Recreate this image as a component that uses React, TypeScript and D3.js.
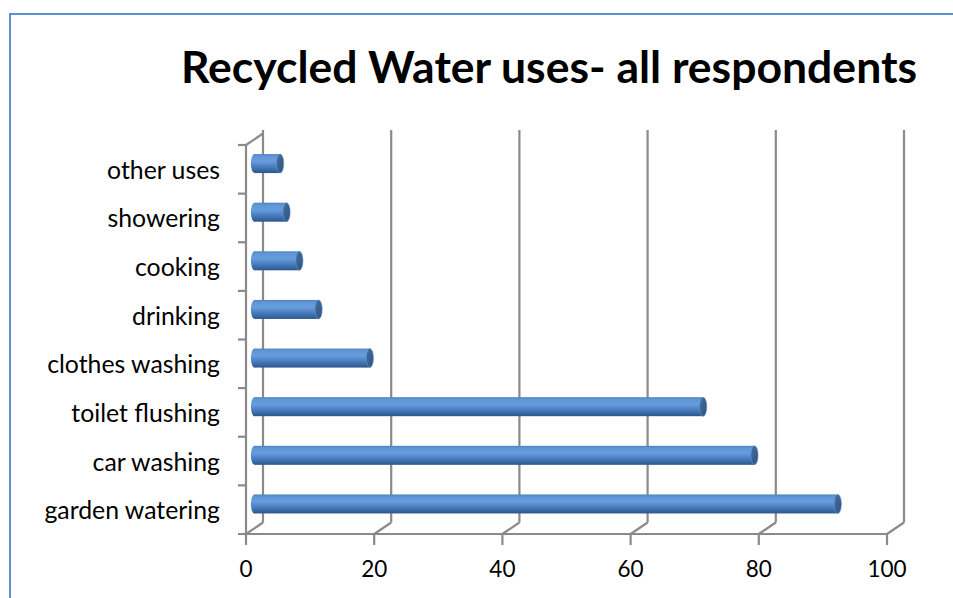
import React from "react";
import * as d3 from "d3";

// Categories listed from top of the chart to the bottom
const categories: string[] = [
  "other uses",
  "showering",
  "cooking",
  "drinking",
  "clothes washing",
  "toilet flushing",
  "car washing",
  "garden watering",
];
const values: number[] = [4, 5, 7, 10, 18, 70, 78, 91];
const xTicks: number[] = [0, 20, 40, 60, 80, 100];
const title = "Recycled Water uses- all respondents";

const W = 953;
const H = 598;
const FONT = "Lato, 'Open Sans', sans-serif";

export default function App() {
  // front plane of the pseudo-3D plot
  const x = d3.scaleLinear().domain([0, 100]).range([246, 887]);
  const y = d3.scaleBand<string>().domain(categories).range([145, 534]).padding(0);
  const dx = 17; // depth offset to the back wall
  const dy = -11.5;
  const floorY = 534;
  const topY = 130;
  const barH = 19;
  const capRx = 3.6;
  const grid = "#8a8a8a";

  const bw = y.bandwidth();

  return (
    <svg
      width={W}
      height={H}
      style={{ position: "absolute", left: 0, top: 0, background: "#fff" }}
      xmlns="http://www.w3.org/2000/svg"
    >
      <defs>
        <linearGradient id="barBody" x1="0" y1="0" x2="0" y2="1">
          <stop offset="0" stopColor="#4f81c2" />
          <stop offset="0.12" stopColor="#6096d6" />
          <stop offset="0.38" stopColor="#679ddd" />
          <stop offset="0.65" stopColor="#4a7fc2" />
          <stop offset="0.9" stopColor="#35639c" />
          <stop offset="1" stopColor="#2c5487" />
        </linearGradient>
        <linearGradient id="barCap" x1="0" y1="0" x2="1" y2="1">
          <stop offset="0" stopColor="#44709f" />
          <stop offset="1" stopColor="#2d5283" />
        </linearGradient>
      </defs>

      {/* outer frame */}
      <path d={`M10,${H} V14 H${W}`} fill="none" stroke="#5b8fd8" strokeWidth={2} />

      <text
        x={549}
        y={83}
        textAnchor="middle"
        fontFamily={FONT}
        fontWeight={700}
        fontSize={44.5}
        fill="#000"
      >
        {title}
      </text>

      {/* back wall gridlines and floor diagonals */}
      {xTicks.map((t) => (
        <g key={`g${t}`}>
          <line x1={x(t) + dx} x2={x(t) + dx} y1={topY} y2={floorY + dy} stroke={grid} strokeWidth={2.2} />
          <line x1={x(t)} x2={x(t) + dx} y1={floorY} y2={floorY + dy} stroke={grid} strokeWidth={2.2} />
          <line x1={x(t)} x2={x(t)} y1={floorY} y2={floorY + 11} stroke={grid} strokeWidth={2.2} />
        </g>
      ))}

      {/* side wall: front vertical axis and top edge */}
      <line x1={x(0)} x2={x(0)} y1={145} y2={floorY} stroke={grid} strokeWidth={2.2} />
      <line x1={x(0)} x2={x(0) + dx} y1={145} y2={145 + dy} stroke={grid} strokeWidth={2.2} />
      {/* front horizontal axis */}
      <line x1={x(0) - 8} x2={x(100)} y1={floorY} y2={floorY} stroke={grid} strokeWidth={2.2} />
      {/* category tick marks */}
      {categories.map((c) => (
        <line
          key={`t${c}`}
          x1={x(0) - 8}
          x2={x(0)}
          y1={y(c)!}
          y2={y(c)!}
          stroke={grid}
          strokeWidth={2.2}
        />
      ))}

      {/* cylinder bars */}
      {categories.map((c, i) => {
        const cy = y(c)! + bw / 2 + dy / 2;
        const x0 = x(0) + dx / 2;
        const x1 = x(values[i]) + dx / 2;
        const top = cy - barH / 2;
        return (
          <g key={`b${c}`}>
            <ellipse cx={x0} cy={cy} rx={capRx} ry={barH / 2} fill="url(#barBody)" />
            <rect x={x0} y={top} width={x1 - x0} height={barH} fill="url(#barBody)" />
            <ellipse
              cx={x1}
              cy={cy}
              rx={capRx}
              ry={barH / 2}
              fill="url(#barCap)"
              stroke="#6c94c8"
              strokeWidth={0.6}
            />
          </g>
        );
      })}

      {/* category labels */}
      {categories.map((c) => (
        <text
          key={`l${c}`}
          x={220}
          y={y(c)! + bw / 2 + 9.5}
          textAnchor="end"
          fontFamily={FONT}
          fontSize={24.8}
          fill="#000"
        >
          {c}
        </text>
      ))}

      {/* value axis labels */}
      {xTicks.map((t) => (
        <text
          key={`x${t}`}
          x={x(t)}
          y={577}
          textAnchor="middle"
          fontFamily={FONT}
          fontSize={22.5}
          fill="#000"
        >
          {t}
        </text>
      ))}
    </svg>
  );
}
